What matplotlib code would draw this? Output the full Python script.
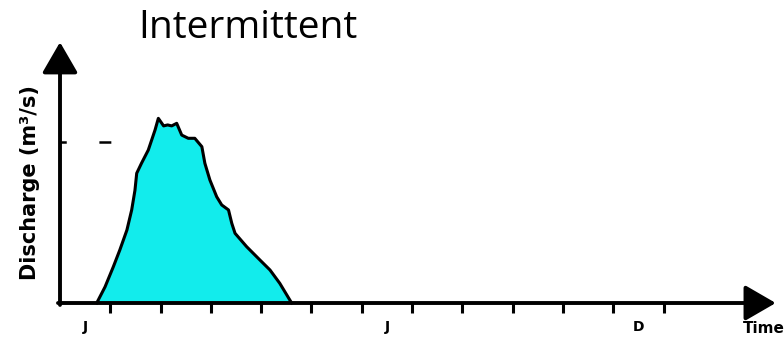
import matplotlib
matplotlib.use("Agg")
import matplotlib.pyplot as plt

plt.rcParams["lines.scale_dashes"] = False

# Hydrograph of an intermittent stream (time in months from January, discharge relative to the marked level)
months = [0.73, 0.895, 1.06, 1.19, 1.33, 1.425, 1.49, 1.525, 1.62, 1.755, 1.89, 1.955,
          2.06, 2.14, 2.22, 2.32, 2.42, 2.55, 2.68, 2.82, 2.88, 2.98, 3.115, 3.215,
          3.35, 3.415, 3.48, 3.71, 3.975, 4.175, 4.37, 4.605]
discharge = [0.00, 0.10, 0.225, 0.33, 0.453, 0.578, 0.70, 0.806, 0.868, 0.95, 1.075, 1.147,
             1.10, 1.106, 1.10, 1.116, 1.043, 1.023, 1.023, 0.971, 0.868, 0.764, 0.66, 0.609,
             0.578, 0.495, 0.433, 0.35, 0.267, 0.205, 0.122, 0.00]

month_bounds = list(range(1, 13))
month_labels = ["J", "J", "D"]
month_label_pos = [0.5, 6.5, 11.5]
ref_level = 1.0

title = "Intermittent"
ylabel = "Discharge (m³/s)"
xlabel = "Time"

fig = plt.figure(figsize=(7.84, 3.40), dpi=100)
ax = fig.add_axes([0, 0, 1, 1])
ax.set_xlim(-1.193, 14.394)
ax.set_ylim(-0.2298, 1.882)

for s in ax.spines.values():
    s.set_visible(False)
ax.spines["bottom"].set_position(("data", 0))
ax.spines["left"].set_position(("data", 0))

# filled hydrograph
ax.fill_between(months, discharge, 0, color="#12ECEC", lw=0, zorder=2)
ax.plot(months, discharge, color="black", lw=2.2, solid_joinstyle="round", zorder=3)

# axes with arrow heads
arrow_kw = dict(arrowstyle="-|>,head_length=0.95,head_width=0.55", lw=2.8,
                color="black", shrinkA=0, shrinkB=0, mutation_scale=20)
ax.annotate("", xy=(14.23, 0), xytext=(-0.04, 0), arrowprops=arrow_kw, zorder=4)
ax.annotate("", xy=(0, 1.62), xytext=(0, -0.012), arrowprops=arrow_kw, zorder=4)

# dashed reference level
ax.hlines(ref_level, 0, 1.04, colors="black", lw=1.8,
          linestyles=[(0, (4.5, 23.5, 8.6, 200))], zorder=3)

# month ticks and labels
ax.set_xticks(month_bounds)
ax.set_xticklabels([])
ax.tick_params(axis="x", which="major", direction="out", length=7.5, width=2.2, color="black")
ax.set_xticks(month_label_pos, minor=True)
ax.set_xticklabels(month_labels, minor=True, fontsize=10, fontweight="bold")
ax.tick_params(axis="x", which="minor", length=0, pad=12)
ax.set_yticks([])

ax.text(-0.60, 0.745, ylabel, rotation=90, ha="center", va="center",
        fontsize=15, fontweight="bold", family="DejaVu Sans")
ax.text(14.0, -0.16, xlabel, ha="center", va="center", fontsize=11, fontweight="bold")

fig.text(138 / 784, (340 - 38) / 340, title, ha="left", va="baseline",
         fontsize=28, family="Open Sans")

fig.savefig("out.png", dpi=100, facecolor="white")
